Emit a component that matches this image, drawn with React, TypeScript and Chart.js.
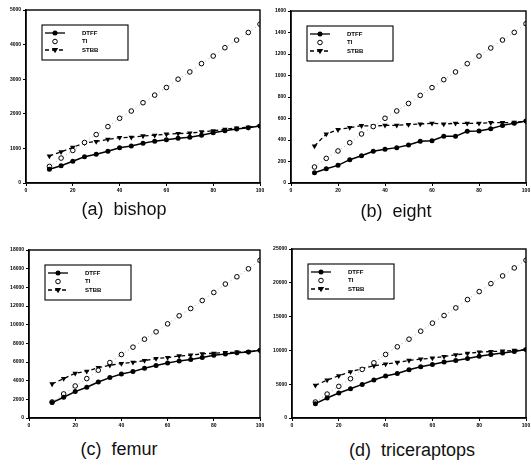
import React, { useEffect, useRef } from "react";
import { Chart, registerables } from "chart.js";

Chart.register(...registerables);

const xValues = [10, 15, 20, 25, 30, 35, 40, 45, 50, 55, 60, 65, 70, 75, 80, 85, 90, 95, 100];
const seriesNames = ["DTFF", "TI", "STBB"];

const bishopDTFF = [400, 500, 630, 760, 830, 920, 1020, 1070, 1150, 1210, 1250, 1290, 1320, 1380, 1450, 1510, 1560, 1600, 1650];
const bishopTI = [480, 720, 940, 1170, 1400, 1630, 1870, 2080, 2320, 2540, 2760, 3000, 3210, 3450, 3670, 3910, 4130, 4350, 4590];
const bishopSTBB = [780, 900, 1030, 1160, 1200, 1260, 1310, 1320, 1360, 1380, 1410, 1430, 1440, 1480, 1510, 1550, 1590, 1610, 1650];

const eightDTFF = [96, 133, 164, 217, 254, 295, 313, 329, 353, 388, 394, 434, 434, 481, 484, 505, 536, 555, 577];
const eightTI = [149, 229, 298, 375, 456, 525, 602, 670, 740, 815, 887, 961, 1033, 1110, 1181, 1256, 1330, 1401, 1482];
const eightSTBB = [344, 456, 496, 515, 533, 530, 536, 536, 543, 549, 555, 549, 555, 555, 555, 561, 561, 564, 574];

const femurDTFF = [1650, 2220, 2830, 3290, 3860, 4330, 4720, 4970, 5330, 5620, 5900, 6120, 6260, 6480, 6730, 6870, 6980, 7080, 7260];
const femurTI = [1720, 2580, 3430, 4220, 5120, 5940, 6800, 7590, 8440, 9230, 10090, 10950, 11730, 12590, 13450, 14350, 15130, 15990, 16890];
const femurSTBB = [3650, 4220, 4790, 5010, 5400, 5650, 5830, 5970, 6150, 6370, 6480, 6650, 6730, 6870, 6940, 7010, 7050, 7120, 7230];

const triDTFF = [2120, 2950, 3690, 4330, 4970, 5610, 6200, 6590, 7140, 7580, 7920, 8270, 8510, 8810, 9150, 9400, 9600, 9840, 10140];
const triTI = [2360, 3540, 4680, 5810, 7190, 8170, 9400, 10530, 11660, 12840, 14030, 15160, 16290, 17520, 18700, 19880, 21020, 22200, 23330];
const triSTBB = [4820, 5610, 6250, 6840, 7280, 7730, 7970, 8220, 8510, 8710, 8860, 9100, 9350, 9550, 9740, 9840, 9890, 9990, 10090];

const xTickStep = 20;
const yMaxes = [5000, 1600, 18000, 25000];
const ySteps = [1000, 200, 2000, 5000];
const captions = ["(a)  bishop", "(b)  eight", "(c)  femur", "(d)  triceraptops"];
const panelData = [
  [bishopDTFF, bishopTI, bishopSTBB],
  [eightDTFF, eightTI, eightSTBB],
  [femurDTFF, femurTI, femurSTBB],
  [triDTFF, triTI, triSTBB],
];

// layout (pixels)
const layouts = [
  { left: 0, top: 0, w: 265, h: 200, yW: 26, padTop: 10, padRight: 1, xH: 17, capX: 124, capY: 209 },
  { left: 265, top: 0, w: 266, h: 200, yW: 26, padTop: 11, padRight: 1, xH: 17, capX: 396, capY: 211 },
  { left: 0, top: 235, w: 265, h: 200, yW: 29, padTop: 15, padRight: 4, xH: 17, capX: 119, capY: 449 },
  { left: 265, top: 235, w: 266, h: 200, yW: 27, padTop: 14, padRight: 2, xH: 17, capX: 412, capY: 450 },
];

function drawMarker(ctx: CanvasRenderingContext2D, kind: string, x: number, y: number) {
  ctx.save();
  ctx.setLineDash([]);
  ctx.strokeStyle = "#000";
  ctx.fillStyle = "#000";
  ctx.lineWidth = 1;
  if (kind === "filled") {
    ctx.beginPath();
    ctx.arc(x, y, 2.5, 0, Math.PI * 2);
    ctx.fill();
  } else if (kind === "open") {
    ctx.beginPath();
    ctx.arc(x, y, 2.3, 0, Math.PI * 2);
    ctx.fillStyle = "#fff";
    ctx.fill();
    ctx.stroke();
  } else {
    const r = 3.2;
    ctx.beginPath();
    ctx.moveTo(x - r, y - r * 0.6);
    ctx.lineTo(x + r, y - r * 0.6);
    ctx.lineTo(x, y + r * 1.0);
    ctx.closePath();
    ctx.fill();
  }
  ctx.restore();
}

const framePlugin = {
  id: "frameAndLegend",
  afterDatasetsDraw(chart: any) {
    const ctx: CanvasRenderingContext2D = chart.ctx;
    const ca = chart.chartArea;
    ctx.save();
    ctx.strokeStyle = "#000";
    ctx.lineWidth = 1.4;
    ctx.setLineDash([]);
    ctx.strokeRect(ca.left, ca.top, ca.right - ca.left, ca.bottom - ca.top);

    // legend box
    const bx = ca.left + 16;
    const by = ca.top + 15;
    const bw = 86;
    const bh = 35;
    ctx.fillStyle = "#fff";
    ctx.fillRect(bx, by, bw, bh);
    ctx.lineWidth = 1.1;
    ctx.strokeRect(bx, by, bw, bh);
    const rows = [8, 16.5, 25];
    chart.data.datasets.forEach((ds: any, i: number) => {
      const ry = by + rows[i];
      if (ds.legendLine) {
        ctx.save();
        ctx.strokeStyle = "#000";
        ctx.lineWidth = 1.3;
        ctx.setLineDash(ds.borderDash || []);
        ctx.beginPath();
        ctx.moveTo(bx + 3, ry);
        ctx.lineTo(bx + 23, ry);
        ctx.stroke();
        ctx.restore();
      }
      drawMarker(ctx, ds.markerKind, bx + 13, ry);
      ctx.fillStyle = "#000";
      ctx.font = "bold 6px 'Liberation Sans', Arial, sans-serif";
      ctx.textBaseline = "middle";
      ctx.textAlign = "left";
      ctx.fillText(ds.label, bx + 40, ry);
    });
    ctx.restore();
  },
};

function Panel({ idx }: { idx: number }) {
  const ref = useRef<HTMLCanvasElement | null>(null);
  const lay = layouts[idx];
  useEffect(() => {
    if (!ref.current) return;
    const [dtff, ti, stbb] = panelData[idx];
    const toPts = (arr: number[]) => arr.map((v, i) => ({ x: xValues[i], y: v }));
    const tickFont = { size: 5, weight: "bold" as const, family: "'Liberation Sans', Arial, sans-serif" };
    const chart = new Chart(ref.current, {
      type: "line",
      data: {
        datasets: [
          {
            label: seriesNames[0],
            data: toPts(dtff),
            borderColor: "#000",
            backgroundColor: "#000",
            borderWidth: 1.5,
            pointStyle: "circle",
            pointRadius: 2.5,
            pointBackgroundColor: "#000",
            pointBorderColor: "#000",
            pointBorderWidth: 0,
            legendLine: true,
            markerKind: "filled",
          } as any,
          {
            label: seriesNames[1],
            data: toPts(ti),
            borderColor: "#888",
            borderWidth: 0.7,
            borderDash: [1, 3],
            pointStyle: "circle",
            pointRadius: 2.3,
            pointBackgroundColor: "#fff",
            pointBorderColor: "#000",
            pointBorderWidth: 1,
            legendLine: false,
            markerKind: "open",
          } as any,
          {
            label: seriesNames[2],
            data: toPts(stbb),
            borderColor: "#000",
            borderWidth: 1.3,
            borderDash: [4, 3],
            pointStyle: "triangle",
            rotation: 180,
            pointRotation: 180,
            pointRadius: 3.2,
            pointBackgroundColor: "#000",
            pointBorderColor: "#000",
            pointBorderWidth: 0,
            legendLine: true,
            markerKind: "tri",
          } as any,
        ],
      },
      options: {
        animation: false,
        responsive: false,
        maintainAspectRatio: false,
        events: [],
        layout: { padding: { top: lay.padTop, right: lay.padRight, left: 0, bottom: 0 } },
        plugins: { legend: { display: false }, tooltip: { enabled: false }, title: { display: false } },
        scales: {
          x: {
            type: "linear",
            min: 0,
            max: 100,
            ticks: { stepSize: xTickStep, font: tickFont, color: "#000", padding: 2, maxRotation: 0, callback: (v: any) => String(v) },
            grid: { drawOnChartArea: false, drawTicks: true, tickLength: 3, color: "#000", lineWidth: 1 },
            border: { display: true, color: "#000", width: 1.4 },
            afterFit: (s: any) => {
              s.height = lay.xH;
              s.paddingLeft = 0;
              s.paddingRight = 0;
            },
          },
          y: {
            type: "linear",
            min: 0,
            max: yMaxes[idx],
            ticks: { stepSize: ySteps[idx], font: tickFont, color: "#000", padding: 2, callback: (v: any) => String(v) },
            grid: { drawOnChartArea: false, drawTicks: true, tickLength: 3, color: "#000", lineWidth: 1 },
            border: { display: true, color: "#000", width: 1.4 },
            afterFit: (s: any) => {
              s.width = lay.yW;
              s.paddingTop = 0;
              s.paddingBottom = 0;
            },
          },
        },
      },
      plugins: [framePlugin],
    });
    return () => chart.destroy();
  }, [idx]);
  return (
    <canvas
      ref={ref}
      width={lay.w}
      height={lay.h}
      style={{ position: "absolute", left: lay.left, top: lay.top, width: lay.w, height: lay.h }}
    />
  );
}

export default function App() {
  return (
    <div style={{ position: "fixed", left: 0, top: 0, width: 531, height: 470, background: "#fff", overflow: "hidden" }}>
      {layouts.map((lay, i) => (
        <Panel key={i} idx={i} />
      ))}
      {layouts.map((lay, i) => (
        <div
          key={"c" + i}
          style={{
            position: "absolute",
            left: lay.capX - 100,
            width: 200,
            top: lay.capY - 11,
            height: 22,
            lineHeight: "22px",
            textAlign: "center",
            whiteSpace: "pre",
            fontFamily: "'Liberation Sans', Arial, sans-serif",
            fontSize: 18,
            color: "#111",
          }}
        >
          {captions[i]}
        </div>
      ))}
    </div>
  );
}
